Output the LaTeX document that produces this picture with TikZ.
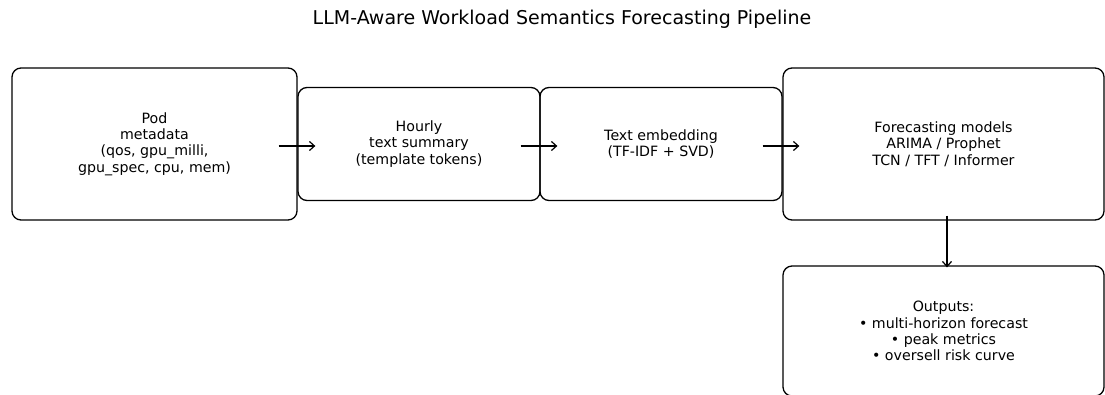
\documentclass[tikz,border=0pt]{standalone}
\usepackage{fontspec}
\setmainfont{DejaVu Sans}
\usetikzlibrary{arrows.meta}
\begin{document}
\begin{tikzpicture}[x=1pt,y=-1pt,
  stage/.style={draw=black, line width=1.3pt, rounded corners=9pt, align=center,
    inner sep=0pt, font=\fontsize{14.2}{16.3}\selectfont},
  flow/.style={line width=1.2pt, -{Straight Barb[length=5pt,width=9pt,line width=1.2pt]}}]
  \useasboundingbox (0,0) rectangle (1105,394);
  \clip (0,0) rectangle (1105,394);
  % title
  \node[font=\fontsize{19}{23}\selectfont] (title) at (562,19) {LLM-Aware Workload Semantics Forecasting Pipeline};
  % pipeline stages
  \node[stage, minimum width=285pt, minimum height=152pt] (pod) at (154.5,144)
    {Pod\\metadata\\(qos, gpu\_milli,\\gpu\_spec, cpu, mem)};
  \node[stage, minimum width=242pt, minimum height=113pt] (hourly) at (419,144)
    {Hourly\\text summary\\(template tokens)};
  \node[stage, minimum width=242pt, minimum height=113pt] (embed) at (661,144)
    {Text embedding\\(TF-IDF + SVD)};
  \node[stage, minimum width=321pt, minimum height=152pt] (models) at (943.5,144)
    {Forecasting models\\ARIMA / Prophet\\TCN / TFT / Informer};
  \node[stage, minimum width=321pt, minimum height=130pt] (outputs) at (943.5,331)
    {Outputs:\\• multi-horizon forecast\\• peak metrics\\• oversell risk curve};
  % connectors
  \draw[flow] ([xshift=-19pt,yshift=-2pt]pod.east) -- ([xshift=18pt,yshift=-2pt]hourly.west);
  \draw[flow] ([xshift=-20pt,yshift=-2pt]hourly.east) -- ([xshift=18pt,yshift=-2pt]embed.west);
  \draw[flow] ([xshift=-20pt,yshift=-2pt]embed.east) -- ([xshift=17pt,yshift=-2pt]models.west);
  \draw[flow] ([xshift=3.5pt,yshift=5pt]models.south) -- ([xshift=3.5pt,yshift=-2pt]outputs.north);
\end{tikzpicture}
\end{document}
